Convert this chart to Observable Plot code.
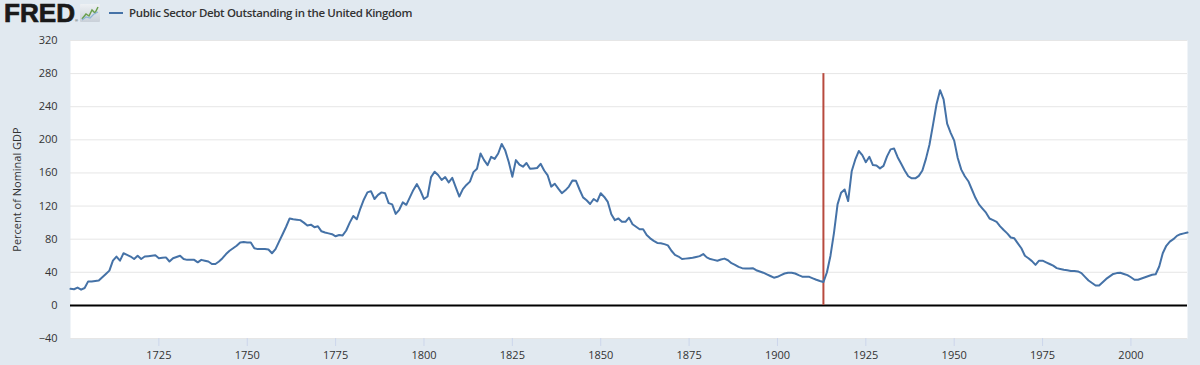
<!DOCTYPE html>
<html>
<head>
<meta charset="utf-8">
<script src="https://cdn.jsdelivr.net/npm/d3@7"></script>
<script src="https://cdn.jsdelivr.net/npm/@observablehq/plot@0.6"></script>
<style>
  html, body { margin: 0; padding: 0; background: #e1e9f0; width: 1200px; height: 365px; overflow: hidden; font-family: "Open Sans", sans-serif; }
  #header { position: relative; height: 30px; }
  #logo { position: absolute; left: 0; top: 0; }
  #legend { position: absolute; left: 109px; top: 5px; font-size: 11.5px; font-weight: 600; letter-spacing: -0.35px; color: #333; display: flex; align-items: center; }
  #legend .sw { width: 14px; height: 2px; background: #4572a7; margin-right: 6px; }
  #chart svg { display: block; }
</style>
</head>
<body>
<div id="header">
  <svg id="logo" width="104" height="30" viewBox="0 0 104 30">
    <defs><linearGradient id="ig" x1="0" y1="0" x2="0" y2="1"><stop offset="0" stop-color="#eef1f4"/><stop offset="1" stop-color="#c9d0d8"/></linearGradient></defs>
    <text x="4" y="22" font-family="Liberation Sans, Arial, sans-serif" font-weight="bold" font-size="25" textLength="71" lengthAdjust="spacingAndGlyphs" fill="#1a1a1a" stroke="#1a1a1a" stroke-width="0.7">FRED</text>
    <text x="75" y="22" font-family="Liberation Sans, Arial, sans-serif" font-size="4" fill="#1a1a1a">®</text>
    <rect x="80" y="4" width="20" height="18" rx="1" fill="url(#ig)"/>
    <polyline points="82,19 86,14 89,16 92,10 95,13 98,7" fill="none" stroke="#6a9f4c" stroke-width="1.5"/>
    <polyline points="82,20 86,17 90,18 94,14 98,12" fill="none" stroke="#8fb5d6" stroke-width="1.2"/>
  </svg>
  <div id="legend"><span class="sw"></span><span id="legendText"></span></div>
</div>
<div id="chart"></div>
<script>
const seriesName = "Public Sector Debt Outstanding in the United Kingdom";
const yLabel = "Percent of Nominal GDP";
const firstYear = 1700;
// Annual values, percent of nominal GDP, 1700..2016
const debtPct = [
  20,19.5,21.5,19,21,29,29,29.5,30,34,
  38,42,54,59,54,63,61,59,56,60,
  56,59,59.5,60,60.5,57,57.5,58,53,57,
  58.5,60,56,55,55,55,52,55,54,53,
  50,50,53,57,62,66,69,72,76,76.5,
  76,76,69,68,68,68,67.5,63,68,77,
  86,95,105,104,103.5,103,100,96.5,97.5,94.5,
  95.5,89.5,88,87,86,83.5,85,84.5,90.5,100,
  108,104,117,128,136.5,138,128.5,133.5,136.5,135.5,
  123.5,122,110.5,115.5,124.5,121.5,130.5,139.5,146.5,138.5,
  128.5,131.5,155,161.5,157.5,151.5,155,148.5,154,142.5,
  131.5,140.5,145.5,149.5,161,165,183.5,175.5,169.5,179.5,
  177,183.5,195,187,173,155.5,175.5,170,167.5,172,
  165,165.5,166,171,163,157,143.5,147,141,135.5,
  139,143.5,151,150.5,140,130.5,127,122.5,128.5,125.5,
  135.5,131,125,110,103,105,101,101,106,98,
  95,92,92,85,81,78,75.5,75,74,72.5,
  66,61,59,56,56.5,57,57.5,58.5,59.5,62,
  58,56,55,54,55.5,56.5,54.5,51,49,46.5,
  45,44.5,44.5,45,42.5,41,39.5,37.5,35.5,33.5,
  34.5,36.5,38.5,39.5,39.5,38.5,36.5,34.7,34.7,34.5,
  32.7,31,29.5,28.2,40,60,88,122,136,140,
  126,162,176,186.5,181.5,173,179.5,169.5,169,165.5,
  168.5,180,188.5,189.5,179,171,163,156,153.5,153.5,
  156.5,163,177,194,218,243,260,249,219.5,208.5,
  199,178,164,156,150,140,130,122,117,112,
  105,103,101,95.5,91,87,82,81,75,69,
  60,57,53.5,49,54,54,52,50,48,45,
  44,43,42.5,41.6,41.6,41,39,34.5,30,27,
  24,24,28,32,35,38,39,39.5,38,36.5,
  34,31,31,32.5,34,35.5,37,37.6,47,63,
  72,77,80,84,86,87,88
];
const yTicks = [-40, 0, 40, 80, 120, 160, 200, 240, 280, 320];
const xTicks = [1725, 1750, 1775, 1800, 1825, 1850, 1875, 1900, 1925, 1950, 1975, 2000];
const markerYear = 1913;
const markerTop = 280;

document.getElementById("legendText").textContent = seriesName;

const data = debtPct.map((v, i) => ({year: firstYear + i, value: v}));
const lastYear = firstYear + debtPct.length - 1;

const chart = Plot.plot({
  width: 1200,
  height: 335,
  marginTop: 10,
  marginBottom: 27,
  marginLeft: 70,
  marginRight: 13,
  style: {fontFamily: "'Open Sans', sans-serif", fontSize: "11px", color: "#333", background: "transparent"},
  x: {domain: [firstYear, lastYear]},
  y: {domain: [-40, 320]},
  marks: [
    Plot.frame({fill: "white", stroke: null}),
    Plot.gridY(yTicks, {stroke: "#e6e6e6", strokeOpacity: 1, strokeWidth: 1}),
    Plot.axisY(yTicks, {tickSize: 0, tickPadding: 13, fill: "#333", label: null}),
    Plot.axisX(xTicks, {tickSize: 8, tickPadding: 5, stroke: "#ccd6eb", fill: "#333", tickFormat: d => String(d), label: null}),
    Plot.text([yLabel], {frameAnchor: "left", textAnchor: "middle", dx: -53, rotate: -90, fill: "#333", fontSize: 11}),
    Plot.ruleY([0], {stroke: "#000", strokeWidth: 2}),
    Plot.ruleX([markerYear], {y1: 0, y2: markerTop, stroke: "#b84a3e", strokeWidth: 2}),
    Plot.line(data, {x: "year", y: "value", stroke: "#4572a7", strokeWidth: 2})
  ]
});
document.getElementById("chart").appendChild(chart);
</script>
</body>
</html>
